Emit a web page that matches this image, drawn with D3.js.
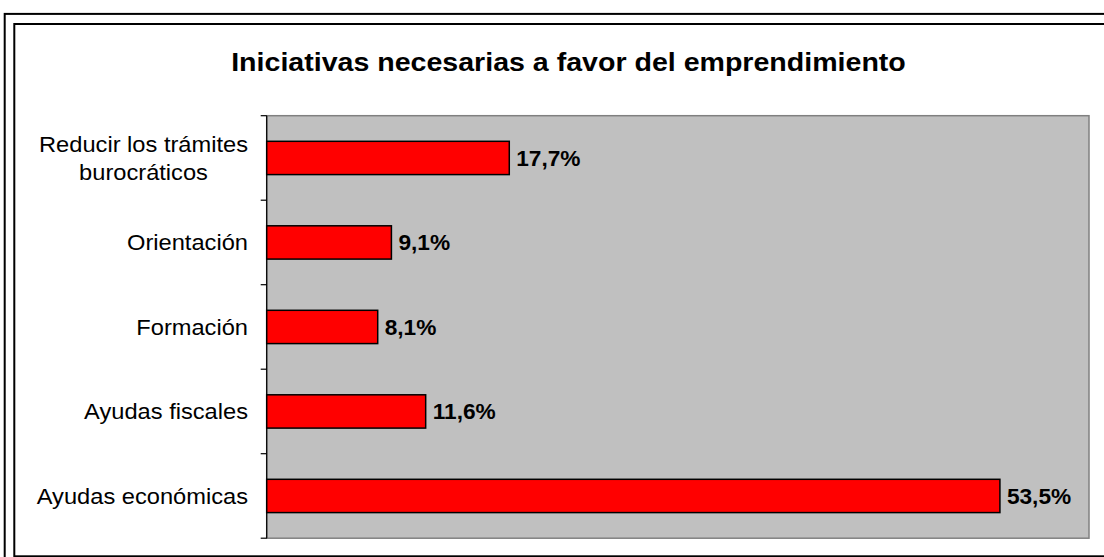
<!DOCTYPE html>
<html><head><meta charset="utf-8">
<script src="https://cdn.jsdelivr.net/npm/d3@7"></script>
<style>html,body{margin:0;padding:0;background:#fff;overflow:hidden}</style>
</head><body>
<svg id="c" width="1104" height="557"></svg>
<script>
const title = "Iniciativas necesarias a favor del emprendimiento";
const categories = [["Reducir los trámites","burocráticos"],["Orientación"],["Formación"],["Ayudas fiscales"],["Ayudas económicas"]];
const values = [17.7, 9.1, 8.1, 11.6, 53.5];
const valueLabels = ["17,7%","9,1%","8,1%","11,6%","53,5%"];
const xDomain = [0, 60];

const svg = d3.select("#c");
const font = "'Liberation Sans', Arial, sans-serif";

function stretch(sel, f){
  sel.each(function(){
    const w = this.getComputedTextLength();
    d3.select(this).attr("textLength", w*f).attr("lengthAdjust","spacingAndGlyphs");
  });
}

// frames
svg.append("rect").attr("x",4.7).attr("y",13.9).attr("width",1200).attr("height",700)
  .attr("fill","none").attr("stroke","#000").attr("stroke-width",2);
svg.append("rect").attr("x",14.3).attr("y",24).attr("width",1200).attr("height",532.3)
  .attr("fill","#fff").attr("stroke","#000").attr("stroke-width",2);

const plot = {left:266.7, top:115.7, right:1089, bottom:538.2};
const x = d3.scaleLinear().domain(xDomain).range([plot.left, plot.right]);
const y = d3.scaleBand().domain(d3.range(categories.length)).range([plot.top, plot.bottom]).padding(0);

svg.append("rect").attr("x",plot.left).attr("y",plot.top)
  .attr("width",plot.right-plot.left).attr("height",plot.bottom-plot.top)
  .attr("fill","#C0C0C0").attr("stroke","#808080").attr("stroke-width",1.5);

// title
const tt = svg.append("text").attr("x",568.5).attr("y",71).attr("text-anchor","middle")
  .attr("font-family",font).attr("font-weight","bold").attr("font-size",25.5)
  .attr("fill","#000").text(title);
stretch(tt, 1.12);

// axis line + ticks
const axisG = svg.append("g").attr("transform",`translate(${plot.left},0)`);
axisG.append("line").attr("x1",0).attr("x2",0).attr("y1",plot.top).attr("y2",plot.bottom)
  .attr("stroke","#000").attr("stroke-width",1.2);
const bounds = d3.range(categories.length+1).map(i => i<categories.length ? y(i) : y(categories.length-1)+y.bandwidth());
axisG.selectAll("line.t").data(bounds).enter().append("line").attr("class","t")
  .attr("x1",-6).attr("x2",0).attr("y1",d=>d).attr("y2",d=>d).attr("stroke","#000").attr("stroke-width",1.2);

// bars
const bh = y.bandwidth()*0.394;
svg.selectAll("rect.bar").data(values).enter().append("rect").attr("class","bar")
  .attr("x",x(0)).attr("y",(d,i)=>y(i)+y.bandwidth()/2-bh/2)
  .attr("width",d=>x(d)-x(0)).attr("height",bh)
  .attr("fill","#FF0000").attr("stroke","#000").attr("stroke-width",1.5);

// value labels
const vl = svg.selectAll("text.val").data(values).enter().append("text").attr("class","val")
  .attr("x",d=>x(d)+7).attr("y",(d,i)=>y(i)+y.bandwidth()/2+8)
  .attr("font-family",font).attr("font-weight","bold").attr("font-size",22)
  .attr("fill","#000").text((d,i)=>valueLabels[i]);
stretch(vl, 1.03);

// category labels
const labelRight = 248;
categories.forEach((lines,i)=>{
  const g = svg.append("g");
  const lh = 28;
  const cy = y(i)+y.bandwidth()/2;
  const t = g.selectAll("text").data(lines).enter().append("text")
    .attr("font-family",font).attr("font-size",22).attr("fill","#000")
    .attr("text-anchor","middle")
    .attr("y",(d,j)=>cy+8+(j-(lines.length-1)/2)*lh).text(d=>d);
  stretch(t, 1.075);
  let maxW = 0; t.each(function(){maxW=Math.max(maxW,+this.getAttribute("textLength"));});
  t.attr("x",labelRight-maxW/2);
});
</script>
</body></html>
